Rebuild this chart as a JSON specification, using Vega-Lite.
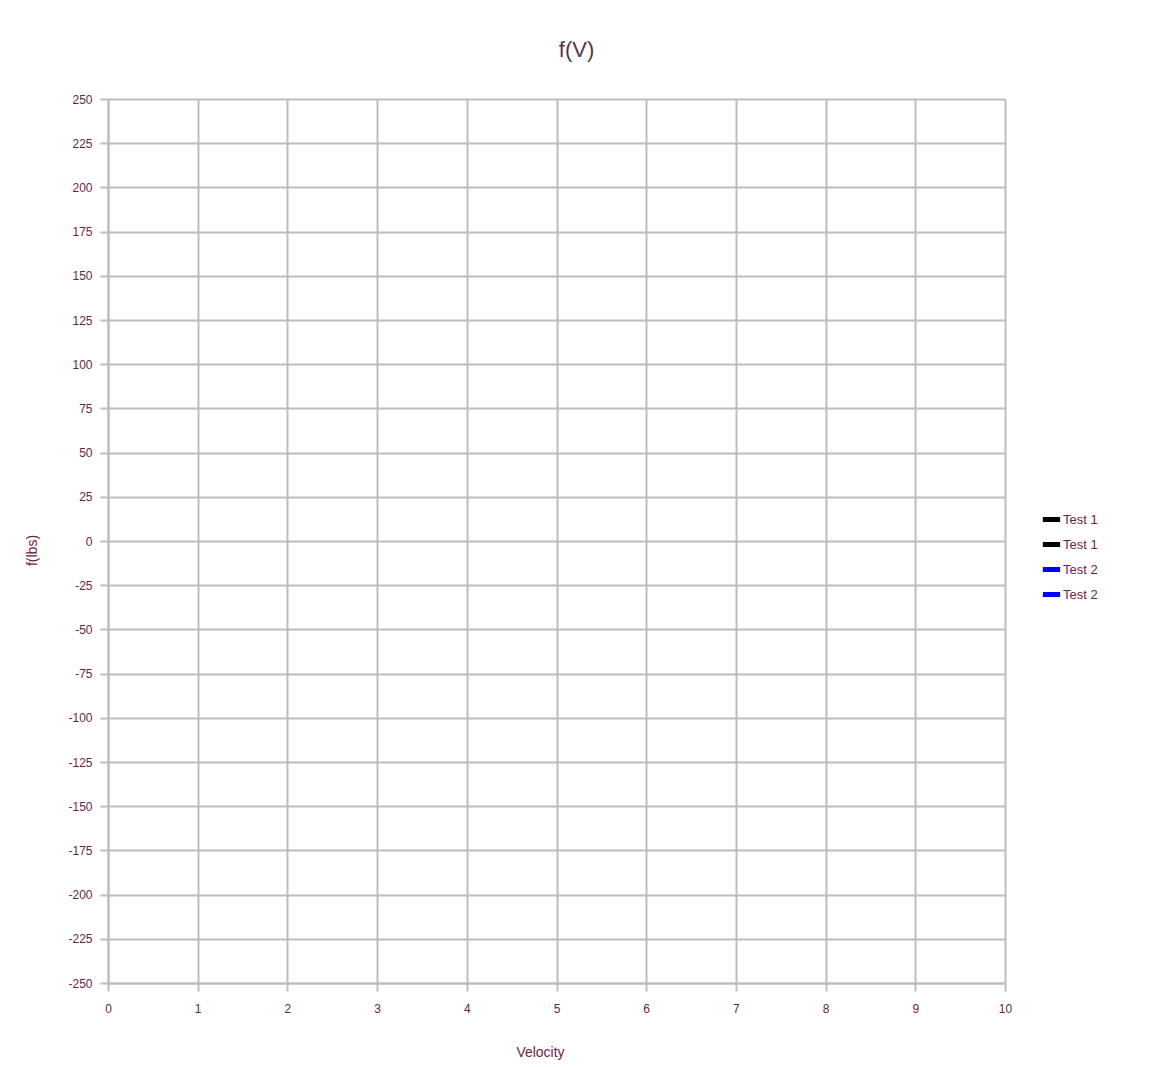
{
  "$schema": "https://vega.github.io/schema/vega-lite/v6.json",
  "width": 897,
  "height": 884,
  "autosize": {"type": "none"},
  "padding": {"left": 108, "top": 99, "right": 148, "bottom": 84},
  "background": "white",
  "title": {
    "text": "f(V)",
    "fontSize": 22,
    "font": "Liberation Sans",
    "fontWeight": "normal",
    "color": "#5a3548",
    "anchor": "middle",
    "dx": 20,
    "offset": 31
  },
  "data": {
    "values": [
      {"series": "Test 1", "velocity": null, "force": null},
      {"series": "Test 1 ", "velocity": null, "force": null},
      {"series": "Test 2", "velocity": null, "force": null},
      {"series": "Test 2 ", "velocity": null, "force": null}
    ]
  },
  "mark": {"type": "line", "strokeWidth": 2},
  "encoding": {
    "x": {
      "field": "velocity",
      "type": "quantitative",
      "scale": {"domain": [0, 10], "nice": false, "zero": false},
      "axis": {
        "title": "Velocity",
        "values": [0, 1, 2, 3, 4, 5, 6, 7, 8, 9, 10],
        "labelFlush": false,
        "grid": true,
        "gridColor": "#bdbdbd",
        "gridWidth": 2,
        "gridOpacity": 1,
        "domainColor": "#bdbdbd",
        "domainWidth": 2,
        "tickColor": "#bdbdbd",
        "tickWidth": 2,
        "tickSize": 8,
        "labelFont": "Liberation Sans",
        "labelFontSize": 12,
        "labelColor": "#6e1e46",
        "labelPadding": 12,
        "titleFont": "Liberation Sans",
        "titleFontSize": 14,
        "titleFontWeight": "normal",
        "titleColor": "#6e1e46",
        "titleX": 432,
        "titleY": 62
      }
    },
    "y": {
      "field": "force",
      "type": "quantitative",
      "scale": {"domain": [-250, 250], "nice": false, "zero": false},
      "axis": {
        "title": "f(lbs)",
        "values": [-250, -225, -200, -175, -150, -125, -100, -75, -50, -25, 0, 25, 50, 75, 100, 125, 150, 175, 200, 225, 250],
        "labelExpr": "toString(datum.value)",
        "labelFlush": false,
        "grid": true,
        "gridColor": "#bdbdbd",
        "gridWidth": 2,
        "gridOpacity": 1,
        "domainColor": "#bdbdbd",
        "domainWidth": 2,
        "tickColor": "#bdbdbd",
        "tickWidth": 2,
        "tickSize": 8,
        "labelFont": "Liberation Sans",
        "labelFontSize": 12,
        "labelColor": "#6e1e46",
        "labelPadding": 8,
        "titleFont": "Liberation Sans",
        "titleFontSize": 14,
        "titleFontWeight": "normal",
        "titleColor": "#6e1e46",
        "titleX": -76,
        "titleY": 451,
        "titleAngle": -90,
        "titleBaseline": "middle",
        "titleAlign": "center"
      }
    },
    "color": {
      "field": "series",
      "type": "nominal",
      "scale": {
        "domain": ["Test 1", "Test 1 ", "Test 2", "Test 2 "],
        "range": ["#000000", "#000000", "#0000ff", "#0000ff"]
      },
      "legend": {
        "title": null,
        "orient": "none",
        "legendX": 932,
        "legendY": 409,
        "symbolType": "stroke",
        "symbolStrokeWidth": 5,
        "symbolSize": 300,
        "symbolOffset": 0,
        "labelFont": "Liberation Sans",
        "labelFontSize": 13,
        "labelColor": "#6e1e46",
        "labelOffset": 0,
        "rowPadding": 3
      }
    }
  },
  "config": {"view": {"stroke": null}}
}
